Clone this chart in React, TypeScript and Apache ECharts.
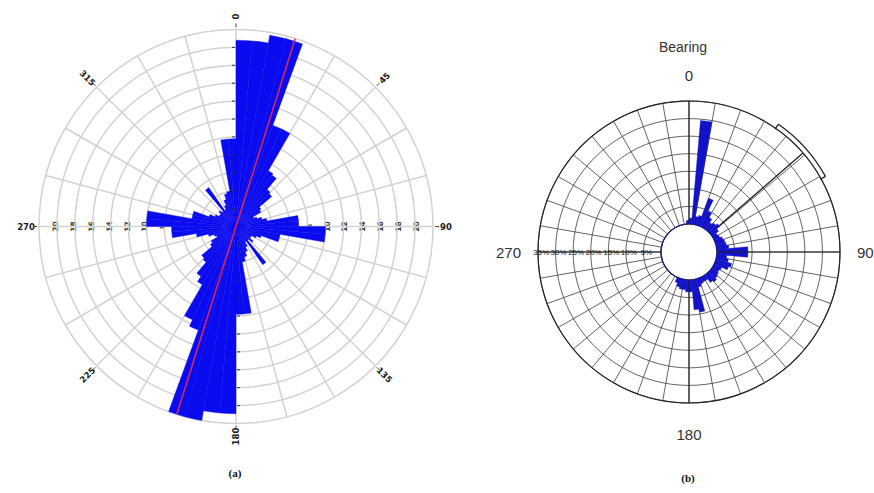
import React, { useEffect, useRef } from "react";
import * as echarts from "echarts";

// ---------- data ----------
// (a) rose diagram: 5-degree bins, bearing 0..360 (frequency)
const aBins: string[] = Array.from({ length: 72 }, (_, i) => String(i * 5));
const aValuesNE: number[] = [
  20.8, 20.8, 21.7, 21.7, 12.0, 12.0, 7.2, 7.0, 5.4, 5.2, 3.4, 3.2,
  2.2, 2.5, 3.0, 3.5, 7.0, 7.0, 10.0, 10.0, 5.0, 5.0, 3.0, 2.5,
  2.0, 2.0, 2.5, 2.0, 5.2, 2.0, 2.5, 3.0, 3.5, 4.0, 9.8, 9.8,
];
const aValuesSW: number[] = [
  20.9, 20.9, 22.0, 22.0, 12.3, 11.5, 7.5, 6.8, 5.2, 5.0, 3.5, 3.2,
  2.4, 2.6, 3.2, 4.5, 7.2, 7.2, 10.0, 10.0, 5.0, 5.0, 3.2, 2.6,
  2.2, 2.2, 2.5, 2.2, 5.3, 2.2, 2.6, 3.2, 3.8, 4.0, 9.8, 9.8,
];
const aRadialTicks: number[] = [2, 4, 6, 8, 10, 12, 14, 16, 18, 20];
const aAngleLabels: number[] = [0, 45, 90, 135, 180, 225, 270, 315];
const aMeanBearing = 17.5;

// (b) rose diagram: 5-degree bins, percentage
const bBins: string[] = Array.from({ length: 72 }, (_, i) => String(i * 5));
const bValues: number[] = [
  1.7, 29.6, 2.3, 2.8, 8.3, 4.8, 3.4, 2.3, 2.8, 3.4, 2.3, 1.4,
  1.7, 2.3, 2.6, 2.8, 3.4, 8.8, 8.8, 2.8, 3.4, 4.6, 4.0, 2.3,
  2.0, 2.3, 2.6, 3.1, 2.6, 1.4, 1.4, 1.7, 2.3, 9.4, 8.5, 3.4,
  3.4, 2.8, 2.8, 2.3, 1.4, 0, 0, 0, 0, 0, 0, 0,
  0, 0, 0, 0, 0, 0, 0, 0, 0, 0, 0, 0,
  0, 0, 0, 0, 0, 0, 0, 0, 0, 0, 0, 1.0,
];
const bRingValues: number[] = [5, 10, 15, 20, 25, 30, 35];
const bCardinals: number[] = [0, 90, 180, 270];
const bMeanBearing = 49;
const bConfLow = 35;
const bConfHigh = 61;

// ---------- layout ----------
const A_CX = 236, A_CY = 226.5, A_R = 197, A_MAX = 22;
const B_CX = 689, B_CY = 252, B_R0 = 28, B_R1 = 151, B_MAX = 35, B_AXIS_EXT = 39.3;

function pt(cx: number, cy: number, r: number, bearing: number): [number, number] {
  const t = (bearing * Math.PI) / 180;
  return [cx + r * Math.sin(t), cy - r * Math.cos(t)];
}
function radialRot(b: number): number {
  let d = 90 - b;
  while (d > 90) d -= 180;
  while (d <= -90) d += 180;
  return (d * Math.PI) / 180;
}

export default function App() {
  const ref = useRef<HTMLDivElement>(null);

  useEffect(() => {
    if (!ref.current) return;
    const chart = echarts.init(ref.current, undefined, { renderer: "svg" });

    const graphics: any[] = [];

    // (a) angle labels + ticks
    aAngleLabels.forEach((b) => {
      const [x, y] = pt(A_CX, A_CY, A_R + 13, b);
      graphics.push({
        type: "text", x, y, rotation: radialRot(b), z: 20,
        style: { text: String(b), fill: "#1a1a1a", font: 'bold 8.5px "DejaVu Sans"', textAlign: "center", textVerticalAlign: "middle" },
      });
      const [x1, y1] = pt(A_CX, A_CY, A_R + 2, b);
      const [x2, y2] = pt(A_CX, A_CY, A_R + 6, b);
      graphics.push({ type: "line", z: 20, shape: { x1, y1, x2, y2 }, style: { stroke: "#444", lineWidth: 1 } });
    });
    // (a) radial labels along 90 / 270 (under bars)
    aRadialTicks.forEach((v) => {
      [90, 270].forEach((b) => {
        const [x, y] = pt(A_CX, A_CY, (v * A_R) / A_MAX + 1.5, b);
        graphics.push({
          type: "text", x, y, rotation: Math.PI / 2, z: 0,
          style: { text: String(v), fill: "#3a3a3a", font: 'bold 7.5px "DejaVu Sans"', textAlign: "center", textVerticalAlign: "middle" },
        });
      });
      // small marks along 0 / 180 axes
      const [x0, y0] = pt(A_CX, A_CY, (v * A_R) / A_MAX, 0);
      graphics.push({ type: "line", z: 20, shape: { x1: x0 - 4, y1: y0, x2: x0 - 1, y2: y0 }, style: { stroke: "#333", lineWidth: 1 } });
      const [x8, y8] = pt(A_CX, A_CY, (v * A_R) / A_MAX, 180);
      graphics.push({ type: "line", z: 20, shape: { x1: x8 + 1, y1: y8, x2: x8 + 4, y2: y8 }, style: { stroke: "#333", lineWidth: 1 } });
    });
    graphics.push({
      type: "text", x: 235, y: 473, z: 20,
      style: { text: "(a)", fill: "#111", font: 'bold 11px "Liberation Serif"', textAlign: "center", textVerticalAlign: "middle" },
    });

    // (b) texts
    graphics.push({
      type: "text", x: 683, y: 47, z: 20,
      style: { text: "Bearing", fill: "#333", font: '14px "Liberation Sans"', textAlign: "center", textVerticalAlign: "middle" },
    });
    bCardinals.forEach((b) => {
      let x: number, y: number, align = "center";
      if (b === 0) [x, y] = pt(B_CX, B_CY, 177, b);
      else if (b === 180) [x, y] = pt(B_CX, B_CY, 182, b);
      else { [x, y] = pt(B_CX, B_CY, 168, b); align = b === 90 ? "left" : "right"; }
      graphics.push({
        type: "text", x, y, z: 20,
        style: { text: String(b), fill: "#333", font: '15px "Liberation Sans"', textAlign: align, textVerticalAlign: "middle" },
      });
    });
    bRingValues.forEach((v) => {
      const r = B_R0 + (v * (B_R1 - B_R0)) / B_MAX;
      const [x, y] = pt(B_CX, B_CY, r - 3, 270);
      graphics.push({
        type: "text", x, y, z: 20,
        style: { text: v + "%", fill: "#1a1a1a", font: '8px "Liberation Sans"', textAlign: "center", textVerticalAlign: "middle" },
      });
    });
    // (b) confidence arc with end ticks
    const arcR = B_R1 + 5;
    graphics.push({
      type: "arc", z: 20,
      shape: { cx: B_CX, cy: B_CY, r: arcR, startAngle: ((bConfLow - 90) * Math.PI) / 180, endAngle: ((bConfHigh - 90) * Math.PI) / 180, clockwise: true },
      style: { stroke: "#222", lineWidth: 1.3, fill: null },
    });
    [bConfLow, bConfHigh].forEach((b) => {
      const [x1, y1] = pt(B_CX, B_CY, arcR, b);
      const [x2, y2] = pt(B_CX, B_CY, arcR - 6, b);
      graphics.push({ type: "line", z: 20, shape: { x1, y1, x2, y2 }, style: { stroke: "#222", lineWidth: 1.3 } });
    });
    graphics.push({
      type: "text", x: 688, y: 478, z: 20,
      style: { text: "(b)", fill: "#111", font: 'bold 11px "Liberation Serif"', textAlign: "center", textVerticalAlign: "middle" },
    });

    const hidden = { show: false };
    const aGrid = { color: "#d2d2d2", width: 1.5 };
    const bGrid = { color: "#3c3c3c", width: 0.8 };

    const option: any = {
      animation: false,
      backgroundColor: "#ffffff",
      polar: [
        { center: [A_CX, A_CY], radius: [0, A_R] },
        { center: [A_CX, A_CY], radius: [0, A_R] },
        { center: [B_CX, B_CY], radius: [B_R0, B_R1] },
        { center: [B_CX, B_CY], radius: [B_R0, B_R1] },
      ],
      angleAxis: [
        {
          polarIndex: 0, type: "value", min: 0, max: 360, interval: 15, startAngle: 90, clockwise: true,
          axisLine: hidden, axisTick: hidden, axisLabel: hidden,
          splitLine: { show: true, lineStyle: aGrid },
        },
        { polarIndex: 1, type: "category", data: aBins, startAngle: 90, clockwise: true, show: false },
        {
          polarIndex: 2, type: "value", min: 0, max: 360, interval: 10, startAngle: 90, clockwise: true,
          axisLine: { show: true, lineStyle: { color: "#222", width: 1.2 } }, axisTick: hidden, axisLabel: hidden,
          splitLine: { show: true, lineStyle: bGrid },
        },
        { polarIndex: 3, type: "category", data: bBins, startAngle: 90, clockwise: true, show: false },
      ],
      radiusAxis: [
        {
          polarIndex: 0, type: "value", min: 0, max: A_MAX, interval: 2,
          axisLine: hidden, axisTick: hidden, axisLabel: hidden,
          splitLine: { show: true, lineStyle: aGrid },
        },
        { polarIndex: 1, type: "value", min: 0, max: A_MAX, show: false },
        {
          polarIndex: 2, type: "value", min: 0, max: B_MAX, interval: 5,
          axisLine: hidden, axisTick: hidden, axisLabel: hidden,
          splitLine: { show: true, lineStyle: bGrid },
        },
        { polarIndex: 3, type: "value", min: 0, max: B_MAX, show: false },
      ],
      graphic: { elements: graphics },
      series: [
        {
          type: "bar", coordinateSystem: "polar", polarIndex: 1,
          data: [...aValuesNE, ...aValuesSW],
          barCategoryGap: "0%",
          itemStyle: { color: "#0b0bf0", borderColor: "#0b0bf0", borderWidth: 0.4 },
          z: 3,
        },
        {
          type: "line", coordinateSystem: "polar", polarIndex: 0, clip: false, symbol: "none", z: 6,
          data: [[23.3, aMeanBearing], [23.3, aMeanBearing + 180]],
          lineStyle: { color: "#d3285a", width: 1.6 },
        },
        ...bCardinals.map((b) => ({
          type: "line", coordinateSystem: "polar", polarIndex: 2, clip: false, symbol: "none", z: 4,
          data: [[0, b], [B_AXIS_EXT, b]],
          lineStyle: { color: "#222", width: 1.1 },
        })),
        {
          type: "bar", coordinateSystem: "polar", polarIndex: 3,
          data: bValues,
          barCategoryGap: "0%",
          itemStyle: { color: "#1212c8", borderColor: "#1212c8", borderWidth: 0.4 },
          z: 3,
        },
        {
          type: "line", coordinateSystem: "polar", polarIndex: 2, clip: false, symbol: "none", z: 6,
          data: [[3.4, bMeanBearing], [B_MAX, bMeanBearing]],
          lineStyle: { color: "#222", width: 1.3 },
        },
      ],
    };

    chart.setOption(option);
    return () => chart.dispose();
  }, []);

  return (
    <div
      ref={ref}
      style={{ position: "fixed", left: 0, top: 0, width: 874, height: 493, background: "#fff" }}
    />
  );
}
